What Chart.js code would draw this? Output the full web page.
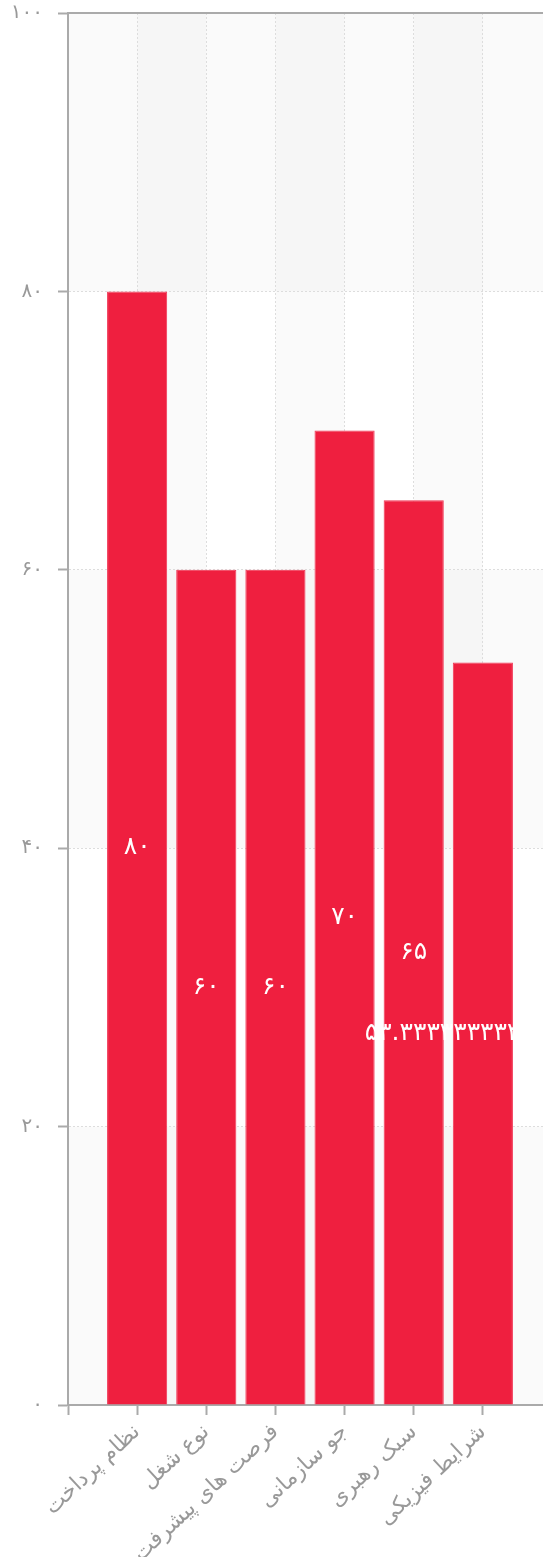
<!DOCTYPE html>
<html lang="fa">
<head>
<meta charset="utf-8">
<script src="https://cdn.jsdelivr.net/npm/chart.js@4.4.1/dist/chart.umd.min.js"></script>
<style>
  html, body { margin: 0; padding: 0; background: #fff; overflow: hidden; }
  #wrap { width: 552px; height: 1585px; }
</style>
</head>
<body>
<div id="wrap"><canvas id="chart"></canvas></div>
<script>
const categories = ['نظام پرداخت', 'نوع شغل', 'فرصت های پیشرفت', 'جو سازمانی', 'سبک رهبری', 'شرایط فیزیکی'];
const scores = [80, 60, 60, 70, 65, 53.333333333333336];
const yMin = 0, yMax = 100, yStep = 20;

const faDigits = '۰۱۲۳۴۵۶۷۸۹';
const toFa = v => String(v).replace(/[0-9]/g, d => faDigits[d]);
const FONT = "'DejaVu Sans', sans-serif";

// alternating light bands, rows and columns
const stripes = {
    id: 'stripes',
    beforeDraw(chart) {
        const {ctx, chartArea: a, scales: {x, y}} = chart;
        ctx.save();
        ctx.fillStyle = 'rgba(0,0,0,0.02)';
        for (let i = 0; i < y.ticks.length - 1; i += 2) {
            const bottom = y.getPixelForValue(y.ticks[i].value);
            const top = y.getPixelForValue(y.ticks[i + 1].value);
            ctx.fillRect(a.left, top, a.width, bottom - top);
        }
        for (let i = 1; i < x.ticks.length - 1; i += 2) {
            const l = x.getPixelForTick(i), r = x.getPixelForTick(i + 1);
            ctx.fillRect(l, a.top, r - l, a.height);
        }
        ctx.restore();
    },
    afterDraw(chart) {
        const {ctx, chartArea: a} = chart;
        ctx.save();
        ctx.strokeStyle = '#aaa';
        ctx.lineWidth = 2;
        ctx.beginPath();
        ctx.moveTo(a.left, a.top);
        ctx.lineTo(a.right, a.top);
        ctx.stroke();
        ctx.restore();
    }
};

// value written in the middle of each bar
const barLabels = {
    id: 'barLabels',
    afterDatasetsDraw(chart) {
        const {ctx} = chart;
        const meta = chart.getDatasetMeta(0);
        const values = chart.data.datasets[0].data;
        ctx.save();
        ctx.fillStyle = '#fff';
        ctx.font = '25px ' + FONT;
        ctx.textAlign = 'center';
        ctx.textBaseline = 'middle';
        meta.data.forEach((bar, i) => {
            if (values[i] == null) return;
            ctx.fillText(toFa(values[i]), bar.x, (bar.y + bar.base) / 2);
        });
        ctx.restore();
    }
};

new Chart(document.getElementById('chart'), {
    type: 'bar',
    data: {
        labels: ['', ...categories, ''],
        datasets: [{
            data: [null, ...scores, null],
            backgroundColor: '#ef1f3f',
            borderColor: '#f13453',
            borderWidth: 1,
            barPercentage: 0.87,
            categoryPercentage: 1
        }]
    },
    options: {
        responsive: true,
        maintainAspectRatio: false,
        animation: false,
        layout: { padding: { top: 13, left: 0, right: 0, bottom: 0 } },
        plugins: {
            legend: { display: false },
            tooltip: { enabled: false }
        },
        scales: {
            x: {
                offset: false,
                afterFit: s => {
                    s.height = 180;
                    s.paddingLeft = 0;
                    s.paddingRight = 0;
                },
                grid: {
                    offset: false,
                    color: '#ddd',
                    lineWidth: 1,
                    tickLength: 10,
                    tickColor: '#aaa',
                    tickWidth: 2,
                    tickBorderDash: []
                },
                border: { color: '#aaa', width: 2, dash: [2, 2] },
                ticks: {
                    autoSkip: false,
                    minRotation: 43,
                    maxRotation: 43,
                    padding: 4,
                    color: '#999',
                    font: { family: FONT, size: 22 }
                }
            },
            y: {
                min: yMin,
                max: yMax,
                afterFit: s => {
                    s.width = 68;
                    s.paddingTop = 0;
                    s.paddingBottom = 0;
                },
                grid: {
                    color: '#ddd',
                    lineWidth: 1,
                    tickLength: 10,
                    tickColor: '#aaa',
                    tickWidth: 2,
                    tickBorderDash: []
                },
                border: { color: '#aaa', width: 2, dash: [2, 2] },
                ticks: {
                    stepSize: yStep,
                    padding: 15,
                    color: '#999',
                    font: { family: FONT, size: 20 },
                    callback: v => toFa(v)
                }
            }
        }
    },
    plugins: [stripes, barLabels]
});
</script>
</body>
</html>
